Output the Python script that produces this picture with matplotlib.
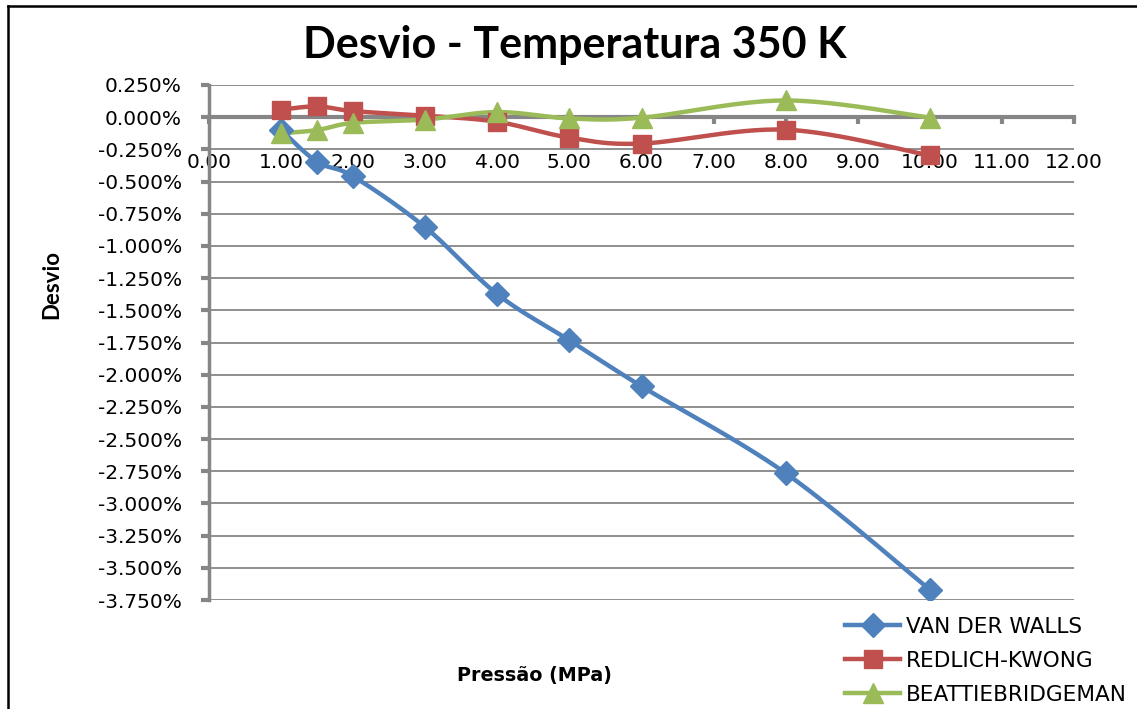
import numpy as np
import matplotlib
matplotlib.use("Agg")
import matplotlib.pyplot as plt
from matplotlib.lines import Line2D
from matplotlib.ticker import FuncFormatter

plt.rcParams['font.family'] = ['DejaVu Sans']

# pressure (MPa) and deviation (%) for each equation of state
pressao = [1.0, 1.5, 2.0, 3.0, 4.0, 5.0, 6.0, 8.0, 10.0]
van_der_walls = [-0.10, -0.347, -0.46, -0.855, -1.375, -1.733, -2.09, -2.765, -3.67]
redlich_kwong = [0.058, 0.084, 0.047, 0.012, -0.036, -0.159, -0.205, -0.097, -0.297]
beattie_bridgeman = [-0.125, -0.10, -0.044, -0.018, 0.040, -0.010, -0.004, 0.130, -0.003]

x_ticks = np.arange(0, 13)
y_ticks = np.arange(-15, 2) * 0.25

BLUE = '#4F81BD'
RED = '#C0504D'
GREEN = '#9BBB59'
GRID = '#868686'


def smooth_curve(ax, xs, ys, n=30):
    # Bezier smoothing in display space, control points from neighbours (P[i+1]-P[i-1])/6
    pts = ax.transData.transform(np.column_stack([xs, ys]))
    out = []
    for i in range(len(pts) - 1):
        p0 = pts[max(i - 1, 0)]
        p1 = pts[i]
        p2 = pts[i + 1]
        p3 = pts[min(i + 2, len(pts) - 1)]
        c1 = p1 + (p2 - p0) / 6.0
        c2 = p2 - (p3 - p1) / 6.0
        t = np.linspace(0, 1, n)[:, None]
        seg = ((1 - t) ** 3) * p1 + 3 * ((1 - t) ** 2) * t * c1 + 3 * (1 - t) * t ** 2 * c2 + t ** 3 * p2
        out.append(seg if i == 0 else seg[1:])
    out = np.vstack(out)
    data = ax.transData.inverted().transform(out)
    return data[:, 0], data[:, 1]


fig = plt.figure(figsize=(11.37, 7.09), dpi=100)
ax = fig.add_axes([209 / 1137, 1 - 600 / 709, (1074 - 209) / 1137, (600 - 85) / 709])

ax.set_xlim(0, 12)
ax.set_ylim(-3.75, 0.25)

# horizontal gridlines
for yv in y_ticks:
    ax.axhline(yv, color=GRID, lw=1.3, zorder=1)

for spine in ['top', 'right']:
    ax.spines[spine].set_visible(False)
ax.spines['left'].set_color(GRID)
ax.spines['left'].set_linewidth(2.5)
ax.spines['bottom'].set_position(('data', 0))
ax.spines['bottom'].set_color(GRID)
ax.spines['bottom'].set_linewidth(3)
ax.spines['bottom'].set_zorder(2)

ax.set_xticks(x_ticks)
ax.set_yticks(y_ticks)
ax.xaxis.set_major_formatter(FuncFormatter(lambda v, p: f"{v:.2f}"))
ax.yaxis.set_major_formatter(FuncFormatter(lambda v, p: f"{v:.3f}%"))
ax.tick_params(axis='x', direction='out', length=5, width=3, color=GRID,
               labelsize=14.5, pad=21)
ax.tick_params(axis='y', direction='out', length=6, width=3, color=GRID,
               labelsize=14.5, pad=13.5)
fig.canvas.draw()

series = [
    (van_der_walls, BLUE, 'D', 12.5, 'VAN DER WALLS'),
    (redlich_kwong, RED, 's', 13.5, 'REDLICH-KWONG'),
    (beattie_bridgeman, GREEN, '^', 14, 'BEATTIEBRIDGEMAN'),
]
handles = []
for ys, color, marker, ms, label in series:
    sx, sy = smooth_curve(ax, pressao, ys)
    ax.plot(sx, sy, color=color, lw=3.2, zorder=3, solid_capstyle='round')
    ax.plot(pressao, ys, linestyle='none', marker=marker, markersize=ms,
            color=color, zorder=4)
    handles.append(Line2D([], [], color=color, lw=3.2, marker=marker,
                          markersize=ms, label=label))

fig.text(575 / 1137, 1 - 45 / 709, 'Desvio - Temperatura 350 K',
         ha='center', va='center', fontsize=31, fontweight='bold',
         family=['Lato', 'DejaVu Sans'])
fig.text(52 / 1137, 1 - 284 / 709, 'Desvio', rotation=90, ha='center',
         va='center', fontsize=16, fontweight='bold',
         family=['Lato', 'DejaVu Sans'])
fig.text(534 / 1137, 1 - 676 / 709, 'Pressão (MPa)', ha='center',
         va='center', fontsize=13.8, fontweight='bold')

fig.legend(handles=handles, loc='upper left',
           bbox_to_anchor=(845 / 1137, 1 - 617 / 709), frameon=False,
           fontsize=15.6, handlelength=2.55, handletextpad=0.25,
           labelspacing=0.64, borderaxespad=0, borderpad=0)

# chart area border (left and top edges)
fig.add_artist(Line2D([8 / 1137, 8 / 1137], [0, 1 - 6 / 709], color='black',
                      lw=1.8, transform=fig.transFigure))
fig.add_artist(Line2D([8 / 1137, 1], [1 - 6 / 709, 1 - 6 / 709], color='black',
                      lw=1.8, transform=fig.transFigure))

fig.savefig('out.png', dpi=100)
